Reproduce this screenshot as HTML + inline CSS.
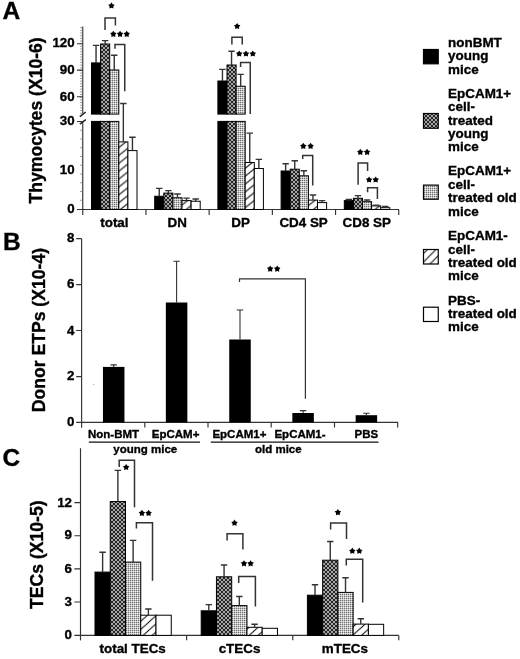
<!DOCTYPE html><html><head><meta charset="utf-8"><style>html,body{margin:0;padding:0;background:#fff;}svg{display:block;filter:blur(0.35px);}.b{font-family:"Liberation Sans",sans-serif;font-weight:bold;fill:#000;stroke:#000;stroke-width:0.35px;}</style></head><body>
<svg width="520" height="659" viewBox="0 0 520 659">
<defs><pattern id="xh" width="4" height="4" patternUnits="userSpaceOnUse"><rect width="4" height="4" fill="#262626"/><path d="M0,0L4,4M0,4L4,0M-1,1L1,-1M3,5L5,3M-1,3L1,5M3,-1L5,1" stroke="#acacac" stroke-width="0.95"/></pattern><pattern id="dt" width="2" height="2" patternUnits="userSpaceOnUse"><rect width="2" height="2" fill="#eee"/><rect width="2" height="1" fill="#c4c4c4"/><rect width="1" height="2" fill="#c4c4c4"/><rect width="1" height="1" fill="#707070"/></pattern><pattern id="hs" width="8.2" height="8.2" patternUnits="userSpaceOnUse"><rect width="8.2" height="8.2" fill="#fff"/><path d="M-2,2L2,-2M0,8.2L8.2,0M6.2,10.2L10.2,6.2" stroke="#111" stroke-width="1.1"/></pattern><pattern id="hs2" width="8.5" height="8.5" patternUnits="userSpaceOnUse" x="5.5" y="0"><rect width="8.5" height="8.5" fill="#fff"/><path d="M-2,2L2,-2M0,8.5L8.5,0M6.5,10.5L10.5,6.5" stroke="#111" stroke-width="1.1"/></pattern></defs>
<rect width="520" height="659" fill="#fff"/>
<text x="2.50" y="19.40" text-anchor="start" font-size="24.5" class="b">A</text>
<path d="M82.75,26.5V113.8M82.75,121V215" stroke="#333" stroke-width="1.15" fill="none"/>
<path d="M79.8,116.6L85.8,112M79.8,124.1L85.8,119.6" stroke="#222" stroke-width="1.5" fill="none"/>
<path d="M80.2,27.65H82.75M80.2,30.33H82.75M80.2,33.00H82.75M80.2,35.68H82.75M80.2,38.35H82.75M80.2,41.02H82.75M80.2,43.70H82.75M80.2,46.37H82.75M80.2,49.05H82.75M80.2,51.72H82.75M80.2,54.40H82.75M80.2,57.07H82.75M80.2,59.75H82.75M80.2,62.42H82.75M80.2,65.10H82.75M80.2,67.77H82.75M80.2,70.45H82.75M80.2,73.12H82.75M80.2,75.80H82.75M80.2,78.47H82.75M80.2,81.15H82.75M80.2,83.82H82.75M80.2,86.50H82.75M80.2,89.17H82.75M80.2,91.85H82.75M80.2,94.52H82.75M80.2,97.20H82.75M80.2,99.87H82.75M80.2,102.55H82.75M80.2,105.22H82.75M80.2,107.90H82.75M80.2,110.57H82.75M80.2,113.25H82.75" stroke="#777" stroke-width="0.8"/>
<path d="M80.2,130.25H82.75M80.2,139.00H82.75M80.2,147.75H82.75M80.2,156.50H82.75M80.2,165.25H82.75M80.2,174.00H82.75M80.2,182.75H82.75M80.2,191.50H82.75M80.2,200.25H82.75" stroke="#777" stroke-width="0.8"/>
<path d="M77,43.7H82.75M77,70.1H82.75M77,96.7H82.75M77,121.5H82.75" stroke="#333" stroke-width="1.15"/>
<path d="M77,209.5H399" stroke="#333" stroke-width="1.15"/>
<path d="M145.95,209.5V215M209.15,209.5V215M272.35,209.5V215M335.55,209.5V215M398.75,209.5V215" stroke="#333" stroke-width="1.15"/>
<text x="74.60" y="47.19" text-anchor="end" font-size="13.3" class="b">120</text>
<text x="74.60" y="74.39" text-anchor="end" font-size="13.3" class="b">90</text>
<text x="74.60" y="101.49" text-anchor="end" font-size="13.3" class="b">60</text>
<text x="74.60" y="125.09" text-anchor="end" font-size="13.3" class="b">30</text>
<text x="74.60" y="174.19" text-anchor="end" font-size="13.3" class="b">10</text>
<text x="74.60" y="213.19" text-anchor="end" font-size="13.3" class="b">0</text>
<text transform="translate(42.2,203.5) rotate(-90)" font-size="17.6" class="b">Thymocytes (X10-6)</text>
<rect x="91.50" y="62.90" width="9.10" height="51.20" fill="#000" stroke="#000" stroke-width="1"/>
<rect x="91.50" y="121.40" width="9.10" height="88.10" fill="#000" stroke="#000" stroke-width="1"/>
<rect x="100.60" y="44.00" width="9.10" height="70.10" fill="url(#xh)" stroke="#000" stroke-width="1"/>
<rect x="100.60" y="121.40" width="9.10" height="88.10" fill="url(#xh)" stroke="#000" stroke-width="1"/>
<rect x="109.70" y="70.00" width="9.10" height="44.10" fill="url(#dt)" stroke="#000" stroke-width="1"/>
<rect x="109.70" y="121.40" width="9.10" height="88.10" fill="url(#dt)" stroke="#000" stroke-width="1"/>
<rect x="118.80" y="141.90" width="9.10" height="67.60" fill="url(#hA0)" stroke="#000" stroke-width="1"/>
<rect x="127.90" y="150.60" width="9.10" height="58.90" fill="#fff" stroke="#000" stroke-width="1"/>
<path d="M96.05,62.90V45.40M92.85,45.40H99.25" stroke="#333" stroke-width="1.4" fill="none"/>
<path d="M105.15,44.00V40.60M101.95,40.60H108.35" stroke="#333" stroke-width="1.4" fill="none"/>
<path d="M114.25,70.00V55.25M111.05,55.25H117.45" stroke="#333" stroke-width="1.4" fill="none"/>
<path d="M123.35,141.90V103.50M120.15,103.50H126.55" stroke="#333" stroke-width="1.4" fill="none"/>
<path d="M132.45,150.60V137.25M129.25,137.25H135.65" stroke="#333" stroke-width="1.4" fill="none"/>
<rect x="154.70" y="196.25" width="9.10" height="13.25" fill="#000" stroke="#000" stroke-width="1"/>
<rect x="163.80" y="193.10" width="9.10" height="16.40" fill="url(#xh)" stroke="#000" stroke-width="1"/>
<rect x="172.90" y="197.75" width="9.10" height="11.75" fill="url(#dt)" stroke="#000" stroke-width="1"/>
<rect x="182.00" y="200.60" width="9.10" height="8.90" fill="url(#hA1)" stroke="#000" stroke-width="1"/>
<rect x="191.10" y="201.25" width="9.10" height="8.25" fill="#fff" stroke="#000" stroke-width="1"/>
<path d="M159.25,196.25V188.40M156.05,188.40H162.45" stroke="#333" stroke-width="1.4" fill="none"/>
<path d="M168.35,193.10V190.60M165.15,190.60H171.55" stroke="#333" stroke-width="1.4" fill="none"/>
<path d="M177.45,197.75V194.00M174.25,194.00H180.65" stroke="#333" stroke-width="1.4" fill="none"/>
<path d="M186.55,200.60V198.10M183.35,198.10H189.75" stroke="#333" stroke-width="1.4" fill="none"/>
<path d="M195.65,201.25V199.00M192.45,199.00H198.85" stroke="#333" stroke-width="1.4" fill="none"/>
<rect x="217.90" y="81.00" width="9.10" height="33.10" fill="#000" stroke="#000" stroke-width="1"/>
<rect x="217.90" y="121.40" width="9.10" height="88.10" fill="#000" stroke="#000" stroke-width="1"/>
<rect x="227.00" y="65.00" width="9.10" height="49.10" fill="url(#xh)" stroke="#000" stroke-width="1"/>
<rect x="227.00" y="121.40" width="9.10" height="88.10" fill="url(#xh)" stroke="#000" stroke-width="1"/>
<rect x="236.10" y="86.25" width="9.10" height="27.85" fill="url(#dt)" stroke="#000" stroke-width="1"/>
<rect x="236.10" y="121.40" width="9.10" height="88.10" fill="url(#dt)" stroke="#000" stroke-width="1"/>
<rect x="245.20" y="162.50" width="9.10" height="47.00" fill="url(#hA2)" stroke="#000" stroke-width="1"/>
<rect x="254.30" y="168.50" width="9.10" height="41.00" fill="#fff" stroke="#000" stroke-width="1"/>
<path d="M222.45,81.00V69.40M219.25,69.40H225.65" stroke="#333" stroke-width="1.4" fill="none"/>
<path d="M231.55,65.00V51.25M228.35,51.25H234.75" stroke="#333" stroke-width="1.4" fill="none"/>
<path d="M240.65,86.25V74.40M237.45,74.40H243.85" stroke="#333" stroke-width="1.4" fill="none"/>
<path d="M249.75,162.50V133.10M246.55,133.10H252.95" stroke="#333" stroke-width="1.4" fill="none"/>
<path d="M258.85,168.50V159.40M255.65,159.40H262.05" stroke="#333" stroke-width="1.4" fill="none"/>
<rect x="281.10" y="171.00" width="9.10" height="38.50" fill="#000" stroke="#000" stroke-width="1"/>
<rect x="290.20" y="169.20" width="9.10" height="40.30" fill="url(#xh)" stroke="#000" stroke-width="1"/>
<rect x="299.30" y="175.80" width="9.10" height="33.70" fill="url(#dt)" stroke="#000" stroke-width="1"/>
<rect x="308.40" y="200.10" width="9.10" height="9.40" fill="url(#hA3)" stroke="#000" stroke-width="1"/>
<rect x="317.50" y="202.60" width="9.10" height="6.90" fill="#fff" stroke="#000" stroke-width="1"/>
<path d="M285.65,171.00V163.70M282.45,163.70H288.85" stroke="#333" stroke-width="1.4" fill="none"/>
<path d="M294.75,169.20V160.70M291.55,160.70H297.95" stroke="#333" stroke-width="1.4" fill="none"/>
<path d="M303.85,175.80V170.70M300.65,170.70H307.05" stroke="#333" stroke-width="1.4" fill="none"/>
<path d="M312.95,200.10V195.00M309.75,195.00H316.15" stroke="#333" stroke-width="1.4" fill="none"/>
<path d="M322.05,202.60V200.60M318.85,200.60H325.25" stroke="#333" stroke-width="1.4" fill="none"/>
<rect x="344.30" y="200.60" width="9.10" height="8.90" fill="#000" stroke="#000" stroke-width="1"/>
<rect x="353.40" y="198.30" width="9.10" height="11.20" fill="url(#xh)" stroke="#000" stroke-width="1"/>
<rect x="362.50" y="201.70" width="9.10" height="7.80" fill="url(#dt)" stroke="#000" stroke-width="1"/>
<rect x="371.60" y="205.90" width="9.10" height="3.60" fill="url(#hA4)" stroke="#000" stroke-width="1"/>
<rect x="380.70" y="207.70" width="9.10" height="1.80" fill="#fff" stroke="#000" stroke-width="1"/>
<path d="M348.85,200.60V199.50M345.65,199.50H352.05" stroke="#333" stroke-width="1.4" fill="none"/>
<path d="M357.95,198.30V195.60M354.75,195.60H361.15" stroke="#333" stroke-width="1.4" fill="none"/>
<path d="M367.05,201.70V200.00M363.85,200.00H370.25" stroke="#333" stroke-width="1.4" fill="none"/>
<path d="M376.15,205.90V205.10M372.95,205.10H379.35" stroke="#333" stroke-width="1.4" fill="none"/>
<path d="M385.25,207.70V206.50M382.05,206.50H388.45" stroke="#333" stroke-width="1.4" fill="none"/>
<path d="M105.00,30.00V18.10H115.40V25.60" stroke="#333" stroke-width="1.5" fill="none"/>
<polygon points="111.45,2.37 112.63,4.16 114.68,4.72 113.35,6.39 113.45,8.53 111.45,7.77 109.45,8.53 109.55,6.39 108.22,4.72 110.27,4.16" fill="#000"/>
<path d="M115.00,48.75V44.40H124.75V91.25" stroke="#333" stroke-width="1.5" fill="none"/>
<polygon points="113.35,30.77 114.53,32.56 116.58,33.12 115.25,34.79 115.35,36.93 113.35,36.17 111.35,36.93 111.45,34.79 110.12,33.12 112.17,32.56" fill="#000"/><polygon points="120.05,30.77 121.23,32.56 123.28,33.12 121.95,34.79 122.05,36.93 120.05,36.17 118.05,36.93 118.15,34.79 116.82,33.12 118.87,32.56" fill="#000"/><polygon points="126.75,30.77 127.93,32.56 129.98,33.12 128.65,34.79 128.75,36.93 126.75,36.17 124.75,36.93 124.85,34.79 123.52,33.12 125.57,32.56" fill="#000"/>
<path d="M231.90,44.40V37.25H242.25V44.40" stroke="#333" stroke-width="1.5" fill="none"/>
<polygon points="237.15,22.92 238.33,24.71 240.38,25.27 239.05,26.94 239.15,29.08 237.15,28.32 235.15,29.08 235.25,26.94 233.92,25.27 235.97,24.71" fill="#000"/>
<path d="M240.60,66.90V62.50H250.25V114.00" stroke="#333" stroke-width="1.5" fill="none"/>
<polygon points="239.20,50.42 240.38,52.21 242.43,52.77 241.10,54.44 241.20,56.58 239.20,55.82 237.20,56.58 237.30,54.44 235.97,52.77 238.02,52.21" fill="#000"/><polygon points="246.00,50.42 247.18,52.21 249.23,52.77 247.90,54.44 248.00,56.58 246.00,55.82 244.00,56.58 244.10,54.44 242.77,52.77 244.82,52.21" fill="#000"/><polygon points="252.80,50.42 253.98,52.21 256.03,52.77 254.70,54.44 254.80,56.58 252.80,55.82 250.80,56.58 250.90,54.44 249.57,52.77 251.62,52.21" fill="#000"/>
<path d="M302.70,159.10V155.40H312.70V185.40" stroke="#333" stroke-width="1.5" fill="none"/>
<polygon points="303.30,142.82 304.48,144.61 306.53,145.17 305.20,146.84 305.30,148.98 303.30,148.22 301.30,148.98 301.40,146.84 300.07,145.17 302.12,144.61" fill="#000"/><polygon points="310.60,142.82 311.78,144.61 313.83,145.17 312.50,146.84 312.60,148.98 310.60,148.22 308.60,148.98 308.70,146.84 307.37,145.17 309.42,144.61" fill="#000"/>
<path d="M358.10,184.70V163.10H367.60V171.00" stroke="#333" stroke-width="1.5" fill="none"/>
<polygon points="360.30,148.82 361.48,150.61 363.53,151.17 362.20,152.84 362.30,154.98 360.30,154.22 358.30,154.98 358.40,152.84 357.07,151.17 359.12,150.61" fill="#000"/><polygon points="367.10,148.82 368.28,150.61 370.33,151.17 369.00,152.84 369.10,154.98 367.10,154.22 365.10,154.98 365.20,152.84 363.87,151.17 365.92,150.61" fill="#000"/>
<path d="M367.60,192.20V187.70H377.40V199.00" stroke="#333" stroke-width="1.5" fill="none"/>
<polygon points="369.10,176.42 370.28,178.21 372.33,178.77 371.00,180.44 371.10,182.58 369.10,181.82 367.10,182.58 367.20,180.44 365.87,178.77 367.92,178.21" fill="#000"/><polygon points="375.70,176.42 376.88,178.21 378.93,178.77 377.60,180.44 377.70,182.58 375.70,181.82 373.70,182.58 373.80,180.44 372.47,178.77 374.52,178.21" fill="#000"/>
<text x="114.40" y="227.00" text-anchor="middle" font-size="13.4" class="b">total</text>
<text x="177.20" y="227.00" text-anchor="middle" font-size="13.4" class="b">DN</text>
<text x="240.60" y="227.00" text-anchor="middle" font-size="13.4" class="b">DP</text>
<text x="303.60" y="227.00" text-anchor="middle" font-size="13.4" class="b">CD4 SP</text>
<text x="366.80" y="227.00" text-anchor="middle" font-size="13.4" class="b">CD8 SP</text>
<rect x="423.5" y="49.50" width="14.75" height="14.30" fill="#000" stroke="#000" stroke-width="1.2"/>
<text x="448.10" y="46.90" text-anchor="start" font-size="13.45" class="b">nonBMT</text>
<text x="448.10" y="60.30" text-anchor="start" font-size="13.45" class="b">young</text>
<text x="448.10" y="73.70" text-anchor="start" font-size="13.45" class="b">mice</text>
<rect x="423.5" y="113.50" width="14.75" height="14.75" fill="url(#xh)" stroke="#000" stroke-width="1.2"/>
<text x="448.10" y="97.70" text-anchor="start" font-size="13.45" class="b">EpCAM1+</text>
<text x="448.10" y="111.10" text-anchor="start" font-size="13.45" class="b">cell-</text>
<text x="448.10" y="124.50" text-anchor="start" font-size="13.45" class="b">treated</text>
<text x="448.10" y="137.90" text-anchor="start" font-size="13.45" class="b">young</text>
<text x="448.10" y="151.30" text-anchor="start" font-size="13.45" class="b">mice</text>
<rect x="423.5" y="185.10" width="14.75" height="14.15" fill="url(#dt)" stroke="#000" stroke-width="1.2"/>
<text x="448.10" y="175.40" text-anchor="start" font-size="13.45" class="b">EpCAM1+</text>
<text x="448.10" y="188.80" text-anchor="start" font-size="13.45" class="b">cell-</text>
<text x="448.10" y="202.20" text-anchor="start" font-size="13.45" class="b">treated old</text>
<text x="448.10" y="215.60" text-anchor="start" font-size="13.45" class="b">mice</text>
<rect x="423.5" y="249.50" width="14.75" height="14.50" fill="url(#hs2)" stroke="#000" stroke-width="1.2"/>
<text x="448.10" y="240.10" text-anchor="start" font-size="13.45" class="b">EpCAM1-</text>
<text x="448.10" y="253.50" text-anchor="start" font-size="13.45" class="b">cell-</text>
<text x="448.10" y="266.90" text-anchor="start" font-size="13.45" class="b">treated old</text>
<text x="448.10" y="280.30" text-anchor="start" font-size="13.45" class="b">mice</text>
<rect x="423.5" y="307.20" width="14.75" height="14.30" fill="#fff" stroke="#000" stroke-width="1.2"/>
<text x="448.10" y="304.60" text-anchor="start" font-size="13.45" class="b">PBS-</text>
<text x="448.10" y="318.00" text-anchor="start" font-size="13.45" class="b">treated old</text>
<text x="448.10" y="331.40" text-anchor="start" font-size="13.45" class="b">mice</text>
<text x="3.00" y="249.80" text-anchor="start" font-size="24.5" class="b">B</text>
<path d="M81.6,238.6V427.8" stroke="#333" stroke-width="1.15" fill="none"/>
<path d="M76.2,238.6H81.6M76.2,284.6H81.6M76.2,330.5H81.6M76.2,376.6H81.6" stroke="#333" stroke-width="1.15"/>
<path d="M76.2,422.4H398" stroke="#333" stroke-width="1.15"/>
<path d="M144.80,422.4V427.6M208.00,422.4V427.6M271.20,422.4V427.6M334.50,422.4V427.6M397.70,422.4V427.6" stroke="#333" stroke-width="1.15"/>
<text x="74.30" y="242.19" text-anchor="end" font-size="13.3" class="b">8</text>
<text x="74.30" y="288.29" text-anchor="end" font-size="13.3" class="b">6</text>
<text x="74.30" y="335.09" text-anchor="end" font-size="13.3" class="b">4</text>
<text x="74.30" y="380.29" text-anchor="end" font-size="13.3" class="b">2</text>
<text x="74.30" y="426.49" text-anchor="end" font-size="13.3" class="b">0</text>
<text transform="translate(44.6,412.2) rotate(-90)" font-size="17.6" class="b">Donor ETPs (X10-4)</text>
<rect x="102.95" y="366.9" width="21.5" height="55.50" fill="#000"/>
<path d="M113.70,366.90V364.90M110.50,364.90H116.90" stroke="#333" stroke-width="1.1" fill="none"/>
<rect x="165.85" y="302.5" width="21.5" height="119.90" fill="#000"/>
<path d="M176.60,302.50V261.25M173.40,261.25H179.80" stroke="#333" stroke-width="1.1" fill="none"/>
<rect x="229.25" y="339.5" width="21.5" height="82.90" fill="#000"/>
<path d="M240.00,339.50V310.00M236.80,310.00H243.20" stroke="#333" stroke-width="1.1" fill="none"/>
<rect x="292.35" y="413.0" width="21.5" height="9.40" fill="#000"/>
<path d="M303.10,413.00V410.60M299.90,410.60H306.30" stroke="#333" stroke-width="1.1" fill="none"/>
<rect x="355.65" y="415.2" width="21.5" height="7.20" fill="#000"/>
<path d="M366.40,415.20V413.30M363.20,413.30H369.60" stroke="#333" stroke-width="1.1" fill="none"/>
<path d="M239.50,282.00V278.90H305.40V398.80" stroke="#333" stroke-width="1.2" fill="none"/>
<polygon points="270.20,265.52 271.38,267.31 273.43,267.87 272.10,269.54 272.20,271.68 270.20,270.92 268.20,271.68 268.30,269.54 266.97,267.87 269.02,267.31" fill="#000"/><polygon points="277.20,265.52 278.38,267.31 280.43,267.87 279.10,269.54 279.20,271.68 277.20,270.92 275.20,271.68 275.30,269.54 273.97,267.87 276.02,267.31" fill="#000"/>
<text x="113.50" y="437.90" text-anchor="middle" font-size="11.5" class="b">Non-BMT</text>
<text x="175.60" y="437.90" text-anchor="middle" font-size="11.5" class="b">EpCAM+</text>
<text x="239.40" y="437.90" text-anchor="middle" font-size="11.5" class="b">EpCAM1+</text>
<text x="300.00" y="437.90" text-anchor="middle" font-size="11.5" class="b">EpCAM1-</text>
<text x="366.40" y="437.90" text-anchor="middle" font-size="11.5" class="b">PBS</text>
<path d="M88.8,442.1H200M210.8,442.1H378.5" stroke="#111" stroke-width="1.4"/>
<text x="145.30" y="452.60" text-anchor="middle" font-size="11.5" class="b">young mice</text>
<text x="278.30" y="452.60" text-anchor="middle" font-size="11.5" class="b">old mice</text>
<circle cx="93.7" cy="384.5" r="0.6" fill="#999"/>
<text x="2.50" y="466.00" text-anchor="start" font-size="24.5" class="b">C</text>
<path d="M80.5,448.2V640.4" stroke="#333" stroke-width="1.15" fill="none"/>
<path d="M74.4,502.6H80.5M74.4,535.7H80.5M74.4,568.8H80.5M74.4,602.0H80.5" stroke="#333" stroke-width="1.15"/>
<path d="M74.4,635.4H398.8" stroke="#333" stroke-width="1.15"/>
<path d="M186.60,635.4V640.3M292.80,635.4V640.3M398.80,635.4V640.3" stroke="#333" stroke-width="1.15"/>
<text x="72.00" y="507.09" text-anchor="end" font-size="13.3" class="b">12</text>
<text x="72.00" y="539.49" text-anchor="end" font-size="13.3" class="b">9</text>
<text x="72.00" y="572.99" text-anchor="end" font-size="13.3" class="b">6</text>
<text x="72.00" y="606.29" text-anchor="end" font-size="13.3" class="b">3</text>
<text x="72.00" y="639.39" text-anchor="end" font-size="13.3" class="b">0</text>
<text transform="translate(42.8,608.9) rotate(-90)" font-size="17.6" class="b">TECs (X10-5)</text>
<rect x="95.00" y="572.10" width="15.25" height="63.30" fill="#000" stroke="#000" stroke-width="1"/>
<rect x="110.25" y="501.50" width="15.25" height="133.90" fill="url(#xh)" stroke="#000" stroke-width="1"/>
<rect x="125.50" y="562.10" width="15.25" height="73.30" fill="url(#dt)" stroke="#000" stroke-width="1"/>
<rect x="140.75" y="615.20" width="15.25" height="20.20" fill="url(#hC0)" stroke="#000" stroke-width="1"/>
<rect x="156.00" y="615.20" width="15.25" height="20.20" fill="#fff" stroke="#000" stroke-width="1"/>
<path d="M102.62,572.10V552.30M99.42,552.30H105.83" stroke="#333" stroke-width="1.4" fill="none"/>
<path d="M117.88,501.50V470.40M114.67,470.40H121.08" stroke="#333" stroke-width="1.4" fill="none"/>
<path d="M133.12,562.10V540.40M129.93,540.40H136.32" stroke="#333" stroke-width="1.4" fill="none"/>
<path d="M148.38,615.20V609.00M145.18,609.00H151.57" stroke="#333" stroke-width="1.4" fill="none"/>
<rect x="201.20" y="610.80" width="15.25" height="24.60" fill="#000" stroke="#000" stroke-width="1"/>
<rect x="216.45" y="576.80" width="15.25" height="58.60" fill="url(#xh)" stroke="#000" stroke-width="1"/>
<rect x="231.70" y="605.60" width="15.25" height="29.80" fill="url(#dt)" stroke="#000" stroke-width="1"/>
<rect x="246.95" y="627.30" width="15.25" height="8.10" fill="url(#hC1)" stroke="#000" stroke-width="1"/>
<rect x="262.20" y="628.30" width="15.25" height="7.10" fill="#fff" stroke="#000" stroke-width="1"/>
<path d="M208.82,610.80V604.60M205.62,604.60H212.02" stroke="#333" stroke-width="1.4" fill="none"/>
<path d="M224.07,576.80V565.00M220.88,565.00H227.27" stroke="#333" stroke-width="1.4" fill="none"/>
<path d="M239.32,605.60V596.50M236.12,596.50H242.52" stroke="#333" stroke-width="1.4" fill="none"/>
<path d="M254.57,627.30V624.20M251.38,624.20H257.77" stroke="#333" stroke-width="1.4" fill="none"/>
<rect x="307.40" y="595.20" width="15.25" height="40.20" fill="#000" stroke="#000" stroke-width="1"/>
<rect x="322.65" y="560.20" width="15.25" height="75.20" fill="url(#xh)" stroke="#000" stroke-width="1"/>
<rect x="337.90" y="592.40" width="15.25" height="43.00" fill="url(#dt)" stroke="#000" stroke-width="1"/>
<rect x="353.15" y="624.10" width="15.25" height="11.30" fill="url(#hC2)" stroke="#000" stroke-width="1"/>
<rect x="368.40" y="624.30" width="15.25" height="11.10" fill="#fff" stroke="#000" stroke-width="1"/>
<path d="M315.02,595.20V584.80M311.82,584.80H318.22" stroke="#333" stroke-width="1.4" fill="none"/>
<path d="M330.27,560.20V541.50M327.07,541.50H333.47" stroke="#333" stroke-width="1.4" fill="none"/>
<path d="M345.52,592.40V577.80M342.32,577.80H348.72" stroke="#333" stroke-width="1.4" fill="none"/>
<path d="M360.77,624.10V618.80M357.57,618.80H363.97" stroke="#333" stroke-width="1.4" fill="none"/>
<path d="M119.20,466.90V460.20H134.50V507.30" stroke="#333" stroke-width="1.5" fill="none"/>
<polygon points="126.15,463.92 127.33,465.71 129.38,466.27 128.05,467.94 128.15,470.08 126.15,469.32 124.15,470.08 124.25,467.94 122.92,466.27 124.97,465.71" fill="#000"/>
<path d="M136.40,528.50V522.70H152.50V580.70" stroke="#333" stroke-width="1.5" fill="none"/>
<polygon points="141.90,509.82 143.08,511.61 145.13,512.17 143.80,513.84 143.90,515.98 141.90,515.22 139.90,515.98 140.00,513.84 138.67,512.17 140.72,511.61" fill="#000"/><polygon points="148.60,509.82 149.78,511.61 151.83,512.17 150.50,513.84 150.60,515.98 148.60,515.22 146.60,515.98 146.70,513.84 145.37,512.17 147.42,511.61" fill="#000"/>
<path d="M227.10,540.40V533.70H242.90V549.60" stroke="#333" stroke-width="1.5" fill="none"/>
<polygon points="234.50,519.62 235.68,521.41 237.73,521.97 236.40,523.64 236.50,525.78 234.50,525.02 232.50,525.78 232.60,523.64 231.27,521.97 233.32,521.41" fill="#000"/>
<path d="M238.70,583.10V576.50H255.40V606.50" stroke="#333" stroke-width="1.5" fill="none"/>
<polygon points="244.00,560.22 245.18,562.01 247.23,562.57 245.90,564.24 246.00,566.38 244.00,565.62 242.00,566.38 242.10,564.24 240.77,562.57 242.82,562.01" fill="#000"/><polygon points="250.60,560.22 251.78,562.01 253.83,562.57 252.50,564.24 252.60,566.38 250.60,565.62 248.60,566.38 248.70,564.24 247.37,562.57 249.42,562.01" fill="#000"/>
<path d="M330.60,529.40V523.10H346.50V539.00" stroke="#333" stroke-width="1.5" fill="none"/>
<polygon points="337.90,509.02 339.08,510.81 341.13,511.37 339.80,513.04 339.90,515.18 337.90,514.42 335.90,515.18 336.00,513.04 334.67,511.37 336.72,510.81" fill="#000"/>
<path d="M346.30,565.40V559.20H362.70V602.50" stroke="#333" stroke-width="1.5" fill="none"/>
<polygon points="352.30,547.62 353.48,549.41 355.53,549.97 354.20,551.64 354.30,553.78 352.30,553.02 350.30,553.78 350.40,551.64 349.07,549.97 351.12,549.41" fill="#000"/><polygon points="359.30,547.62 360.48,549.41 362.53,549.97 361.20,551.64 361.30,553.78 359.30,553.02 357.30,553.78 357.40,551.64 356.07,549.97 358.12,549.41" fill="#000"/>
<text x="132.70" y="652.70" text-anchor="middle" font-size="13.4" class="b">total TECs</text>
<text x="239.50" y="652.70" text-anchor="middle" font-size="13.4" class="b">cTECs</text>
<text x="344.90" y="652.70" text-anchor="middle" font-size="13.4" class="b">mTECs</text>
<defs><pattern id="hA0" width="9.875" height="7.900" patternUnits="userSpaceOnUse" x="0" y="5.600"><rect width="9.875" height="7.900" fill="#fff"/><path d="M-2.469,1.975L2.469,-1.975M0,7.900L9.875,0M7.406,9.875L12.344,5.925" stroke="#111" stroke-width="1.1"/></pattern><pattern id="hA1" width="9.875" height="7.900" patternUnits="userSpaceOnUse" x="0" y="3.000"><rect width="9.875" height="7.900" fill="#fff"/><path d="M-2.469,1.975L2.469,-1.975M0,7.900L9.875,0M7.406,9.875L12.344,5.925" stroke="#111" stroke-width="1.1"/></pattern><pattern id="hA2" width="9.875" height="7.900" patternUnits="userSpaceOnUse" x="0" y="1.000"><rect width="9.875" height="7.900" fill="#fff"/><path d="M-2.469,1.975L2.469,-1.975M0,7.900L9.875,0M7.406,9.875L12.344,5.925" stroke="#111" stroke-width="1.1"/></pattern><pattern id="hA3" width="9.875" height="7.900" patternUnits="userSpaceOnUse" x="0" y="2.000"><rect width="9.875" height="7.900" fill="#fff"/><path d="M-2.469,1.975L2.469,-1.975M0,7.900L9.875,0M7.406,9.875L12.344,5.925" stroke="#111" stroke-width="1.1"/></pattern><pattern id="hA4" width="9.875" height="7.900" patternUnits="userSpaceOnUse" x="0" y="4.000"><rect width="9.875" height="7.900" fill="#fff"/><path d="M-2.469,1.975L2.469,-1.975M0,7.900L9.875,0M7.406,9.875L12.344,5.925" stroke="#111" stroke-width="1.1"/></pattern><pattern id="hC0" width="9.000" height="8.100" patternUnits="userSpaceOnUse" x="0" y="2.800"><rect width="9.000" height="8.100" fill="#fff"/><path d="M-2.250,2.025L2.250,-2.025M0,8.100L9.000,0M6.750,10.125L11.250,6.075" stroke="#111" stroke-width="1.1"/></pattern><pattern id="hC1" width="9.000" height="8.100" patternUnits="userSpaceOnUse" x="0" y="1.000"><rect width="9.000" height="8.100" fill="#fff"/><path d="M-2.250,2.025L2.250,-2.025M0,8.100L9.000,0M6.750,10.125L11.250,6.075" stroke="#111" stroke-width="1.1"/></pattern><pattern id="hC2" width="9.000" height="8.100" patternUnits="userSpaceOnUse" x="0" y="5.000"><rect width="9.000" height="8.100" fill="#fff"/><path d="M-2.250,2.025L2.250,-2.025M0,8.100L9.000,0M6.750,10.125L11.250,6.075" stroke="#111" stroke-width="1.1"/></pattern></defs>
</svg></body></html>
